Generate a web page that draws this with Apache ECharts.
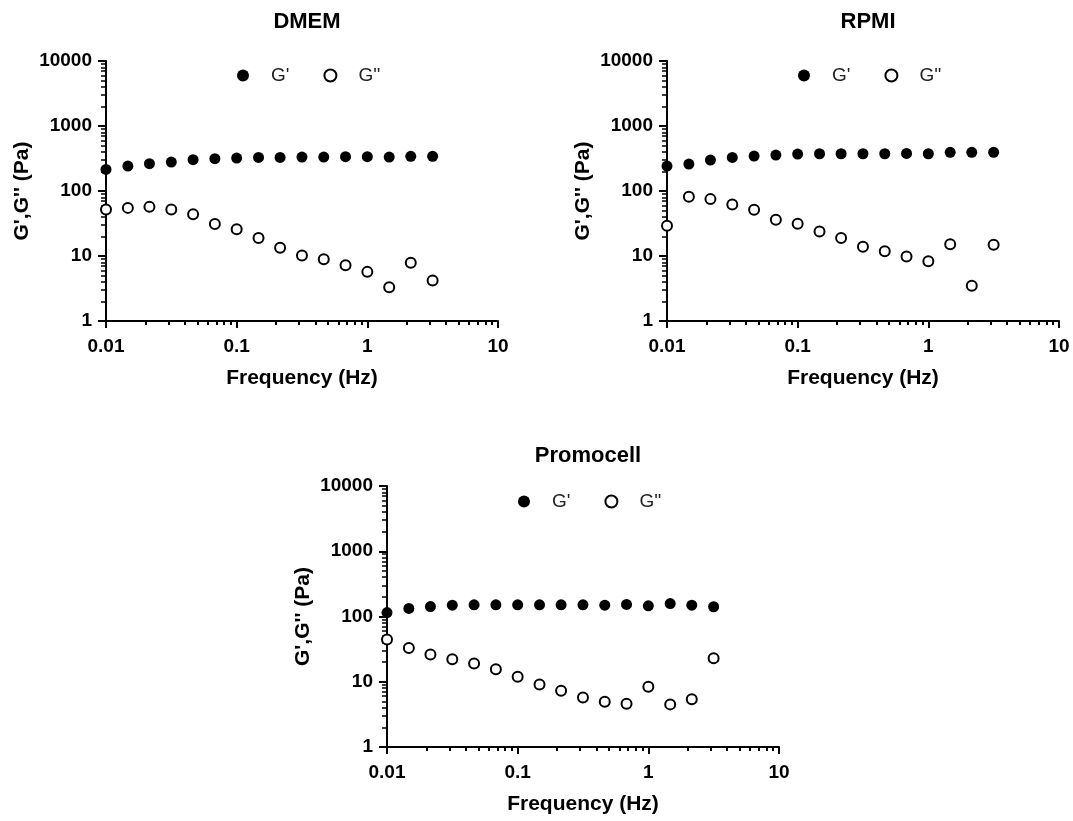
<!DOCTYPE html>
<html>
<head>
<meta charset="utf-8">
<script src="https://cdn.jsdelivr.net/npm/echarts@6/dist/echarts.min.js"></script>
<style>html,body{margin:0;padding:0;background:#fff}#c{width:1073px;height:821px}</style>
</head>
<body>
<div id="c"></div>
<script>
// ---- data ----
const frequency = [0.01, 0.0147, 0.0215, 0.0316, 0.0464, 0.0681, 0.1, 0.147, 0.215, 0.316, 0.464, 0.681, 1, 1.47, 2.15, 3.16];
const dmemGp   = [215, 242, 263, 279, 303, 314, 321, 329, 329, 333, 333, 337, 337, 333, 341, 341];
const dmemGpp  = [52, 55, 57, 52, 44, 31, 25.7, 18.9, 13.4, 10.2, 8.9, 7.2, 5.7, 3.3, 7.9, 4.2];
const rpmiGp   = [242, 260, 299, 329, 345, 357, 370, 374, 374, 374, 374, 379, 374, 393, 393, 393];
const rpmiGpp  = [29.2, 81.5, 75, 62, 51.5, 36, 31.4, 23.9, 18.9, 13.9, 11.8, 9.8, 8.3, 15.1, 3.5, 14.9];
const promoGp  = [115, 133, 142, 149, 151, 151, 151, 151, 151, 151, 149, 153, 146, 158, 149, 141];
const promoGpp = [44.5, 32.8, 26.2, 22.2, 19.1, 15.6, 11.9, 9.1, 7.3, 5.75, 4.94, 4.6, 8.4, 4.5, 5.4, 23];
const panelTitles = ['DMEM', 'RPMI', 'Promocell'];
const seriesNames = ["G'", "G''"];
const xTicks = [0.01, 0.1, 1, 10];
const xTickLabels = ['0.01', '0.1', '1', '10'];
const xMinorTicks = [0.02,0.03,0.04,0.05,0.06,0.07,0.08,0.09,0.2,0.3,0.4,0.5,0.6,0.7,0.8,0.9,2,3,4,5,6,7,8,9];
const yTicks = [1, 10, 100, 1000, 10000];
const yTickLabels = ['1', '10', '100', '1000', '10000'];
const yMinorTicks = [2,3,4,5,6,7,8,9,20,30,40,50,60,70,80,90,200,300,400,500,600,700,800,900,2000,3000,4000,5000,6000,7000,8000,9000];
const xName = 'Frequency (Hz)';
const yName = "G',G'' (Pa)";

// ---- layout ----
const layouts = [
  {left: 106, top: 61, width: 392, height: 260, titleTop: 6, legendLeft: 232, legendTop: 61},
  {left: 667, top: 61, width: 392, height: 260, titleTop: 6, legendLeft: 793, legendTop: 61},
  {left: 387, top: 486, width: 392, height: 261, titleTop: 440, legendLeft: 513, legendTop: 487}
];
const panelData = [[dmemGp, dmemGpp], [rpmiGp, rpmiGpp], [promoGp, promoGpp]];

const FONT = '"Liberation Sans", Arial, Helvetica, sans-serif';
const axisLine = {show: true, lineStyle: {color: '#000', width: 2}};
const option = {
  backgroundColor: '#fff',
  animation: false,
  title: [], grid: [], xAxis: [], yAxis: [], legend: [], series: []
};

layouts.forEach((L, i) => {
  option.title.push({
    text: panelTitles[i], left: L.left + L.width / 2, top: L.titleTop, textAlign: 'center',
    textStyle: {fontFamily: FONT, fontWeight: 'bold', fontSize: 22, color: '#000'}
  });
  option.grid.push({left: L.left, top: L.top, width: L.width, height: L.height,
    containLabel: false, outerBoundsMode: 'none'});
  const xa = 2 * i, ya = 2 * i;
  option.xAxis.push({
    type: 'log', logBase: 10, min: 0.01, max: 10, gridIndex: i, position: 'bottom',
    axisLine: axisLine, splitLine: {show: false},
    axisTick: {show: true, length: 7, customValues: xTicks, lineStyle: {color: '#000', width: 2}},
    axisLabel: {show: true, customValues: xTicks, margin: 16,
      formatter: v => { const k = xTicks.findIndex(t => Math.abs(Math.log10(t) - Math.log10(v)) < 1e-6); return k >= 0 ? xTickLabels[k] : ''; },
      fontFamily: FONT, fontWeight: 'bold', fontSize: 19, color: '#000'},
    name: xName, nameLocation: 'middle', nameGap: 47,
    nameTextStyle: {fontFamily: FONT, fontWeight: 'bold', fontSize: 21, color: '#000'}
  });
  option.xAxis.push({
    type: 'log', logBase: 10, min: 0.01, max: 10, gridIndex: i, position: 'bottom', offset: 0,
    axisLine: {show: false}, splitLine: {show: false},
    axisTick: {show: true, length: 4, customValues: xMinorTicks, lineStyle: {color: '#000', width: 2}},
    axisLabel: {show: false}
  });
  option.yAxis.push({
    type: 'log', logBase: 10, min: 1, max: 10000, gridIndex: i, position: 'left',
    axisLine: axisLine, splitLine: {show: false},
    axisTick: {show: true, length: 8, customValues: yTicks, lineStyle: {color: '#000', width: 2}},
    axisLabel: {show: true, customValues: yTicks, margin: 14,
      formatter: v => { const k = yTicks.findIndex(t => Math.abs(Math.log10(t) - Math.log10(v)) < 1e-6); return k >= 0 ? yTickLabels[k] : ''; },
      fontFamily: FONT, fontWeight: 'bold', fontSize: 19, color: '#000'},
    name: yName, nameLocation: 'middle', nameGap: 73,
    nameTextStyle: {fontFamily: FONT, fontWeight: 'bold', fontSize: 21, color: '#000'}
  });
  option.yAxis.push({
    type: 'log', logBase: 10, min: 1, max: 10000, gridIndex: i, position: 'left', offset: 0,
    axisLine: {show: false}, splitLine: {show: false},
    axisTick: {show: true, length: 5, customValues: yMinorTicks, lineStyle: {color: '#000', width: 1.5}},
    axisLabel: {show: false}
  });
  option.legend.push({
    left: L.legendLeft, top: L.legendTop, orient: 'horizontal',
    itemWidth: 40, itemHeight: 12, itemGap: 34,
    selectedMode: false,
    data: [
      {name: seriesNames[0], icon: 'circle', itemStyle: {color: '#000', borderWidth: 0}},
      {name: seriesNames[1], icon: 'circle', itemStyle: {color: '#fff', borderColor: '#000', borderWidth: 2}}
    ],
    textStyle: {fontFamily: FONT, fontSize: 19, color: '#222', padding: [0, 0, 0, 3]}
  });
  const [gp, gpp] = panelData[i];
  option.series.push({
    name: seriesNames[0], type: 'scatter', xAxisIndex: xa, yAxisIndex: ya,
    symbol: 'circle', symbolSize: 11, clip: false,
    itemStyle: {color: '#000', opacity: 1},
    data: frequency.map((f, j) => [f, gp[j]]), z: 3
  });
  option.series.push({
    name: seriesNames[1], type: 'scatter', xAxisIndex: xa, yAxisIndex: ya,
    symbol: 'circle', symbolSize: 10, clip: false,
    itemStyle: {color: '#fff', borderColor: '#000', borderWidth: 2, opacity: 1},
    data: frequency.map((f, j) => [f, gpp[j]]), z: 3
  });
});

const chart = echarts.init(document.getElementById('c'), null, {renderer: 'canvas'});
chart.setOption(option);
</script>
</body>
</html>
